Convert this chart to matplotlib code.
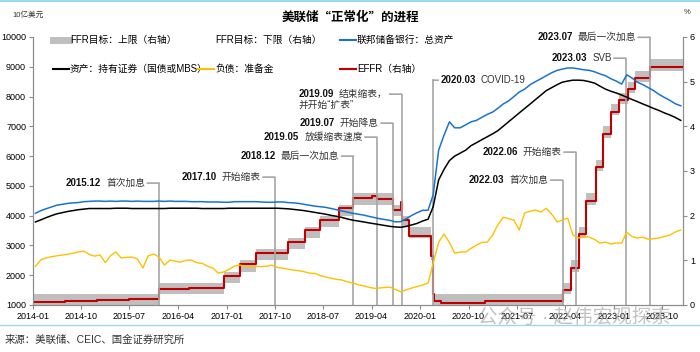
import numpy as np
import pandas as pd
import matplotlib
matplotlib.use("Agg")
import matplotlib.pyplot as plt
import matplotlib.dates as mdates
from matplotlib.lines import Line2D

plt.rcParams["font.family"] = ["Liberation Sans", "Noto Sans CJK SC"]
plt.rcParams["axes.unicode_minus"] = False

# ---------------- data (10亿美元, mid-month) ----------------
months = pd.date_range("2014-01-01", "2024-01-01", freq="MS") + pd.Timedelta(days=14)

total_assets = [
    4080, 4170, 4230, 4290, 4350, 4380, 4410, 4430, 4440, 4470, 4480, 4490,
    4490, 4480, 4490, 4480, 4490, 4490, 4480, 4490, 4480, 4480, 4480, 4490,
    4480, 4490, 4480, 4480, 4480, 4470, 4470, 4470, 4460, 4460, 4460, 4450,
    4450, 4470, 4470, 4470, 4470, 4470, 4460, 4450, 4450, 4460, 4460, 4440,
    4430, 4410, 4380, 4350, 4320, 4300, 4280, 4240, 4200, 4160, 4120, 4080,
    4050, 4020, 3980, 3940, 3900, 3870, 3840, 3790, 3800, 3900, 4010, 4100,
    4180, 4180, 4700, 6200, 6700, 7150, 6950, 6950, 7050, 7150, 7200, 7300,
    7400, 7480, 7600, 7750, 7850, 8000, 8150, 8250, 8400, 8500, 8600, 8700,
    8800, 8880, 8920, 8960, 8960, 8930, 8900, 8880, 8830, 8760, 8700, 8600,
    8520, 8420, 8730, 8620, 8480, 8400, 8300, 8200, 8070, 7970, 7870, 7760,
    7690,
]

securities = [
    3790, 3860, 3930, 4000, 4060, 4100, 4140, 4170, 4200, 4220, 4240, 4240,
    4240, 4240, 4240, 4250, 4250, 4250, 4240, 4240, 4240, 4240, 4240, 4240,
    4240, 4250, 4250, 4250, 4250, 4250, 4250, 4240, 4240, 4240, 4240, 4240,
    4250, 4250, 4250, 4250, 4250, 4250, 4250, 4250, 4250, 4250, 4240, 4230,
    4210, 4190, 4170, 4140, 4110, 4080, 4050, 4010, 3980, 3940, 3890, 3850,
    3820, 3790, 3760, 3730, 3700, 3670, 3640, 3620, 3610, 3640, 3690, 3740,
    3820, 3880, 4300, 5200, 5550, 5850, 6000, 6100, 6200, 6350, 6450, 6550,
    6650, 6750, 6850, 7000, 7150, 7300, 7450, 7600, 7750, 7900, 8050, 8200,
    8300, 8400, 8480, 8520, 8550, 8550, 8540, 8500, 8450, 8350, 8250, 8180,
    8120, 8050, 7980, 7900, 7830, 7750, 7680, 7600, 7530, 7450, 7380, 7300,
    7200,
]

reserves = [
    2300, 2520, 2580, 2620, 2650, 2680, 2700, 2740, 2780, 2810, 2700, 2640,
    2680, 2420, 2650, 2780, 2580, 2600, 2610, 2550, 2240, 2650, 2710, 2610,
    2340, 2510, 2470, 2440, 2500, 2510, 2420, 2400, 2300, 2240, 2070, 2110,
    2200, 2310, 2340, 2300, 2280, 2300, 2290, 2300, 2340, 2260, 2240, 2200,
    2170, 2150, 2120, 2070, 2060, 1990, 1940, 1900, 1860, 1840, 1780, 1740,
    1680, 1650, 1600, 1560, 1570, 1590, 1600, 1520, 1440, 1510, 1570, 1620,
    1670, 1740, 2400, 3110, 3380, 3100, 2740, 2780, 2780, 2900, 3010, 3100,
    3110, 3350, 3680, 3950, 3900, 3850, 3520, 4090, 4150, 4190, 4120, 4250,
    4050, 3790, 3850, 3920, 3350, 3250, 3300, 3280, 3200, 3080, 3110, 3050,
    3080, 3080, 3450, 3300, 3250, 3280, 3210, 3230, 3250, 3300, 3350, 3450,
    3520,
]

# FFR target range (%), step changes
ffr_dates = [
    "2014-01-01", "2015-12-17", "2016-12-15", "2017-03-16", "2017-06-15",
    "2017-12-14", "2018-03-22", "2018-06-14", "2018-09-27", "2018-12-20",
    "2019-08-01", "2019-09-19", "2019-10-31", "2020-03-04", "2020-03-16",
    "2022-03-17", "2022-05-05", "2022-06-16", "2022-07-28", "2022-09-22",
    "2022-11-03", "2022-12-15", "2023-02-02", "2023-03-23", "2023-05-04",
    "2023-07-27", "2024-01-28",
]
ffr_lower = [0.00, 0.25, 0.50, 0.75, 1.00, 1.25, 1.50, 1.75, 2.00, 2.25,
             2.00, 1.75, 1.50, 1.00, 0.00, 0.25, 0.75, 1.50, 2.25, 3.00,
             3.75, 4.25, 4.50, 4.75, 5.00, 5.25, 5.25]
ffr_upper = [0.25, 0.50, 0.75, 1.00, 1.25, 1.50, 1.75, 2.00, 2.25, 2.50,
             2.25, 2.00, 1.75, 1.25, 0.25, 0.50, 1.00, 1.75, 2.50, 3.25,
             4.00, 4.50, 4.75, 5.00, 5.25, 5.50, 5.50]

effr_dates = [
    "2014-01-01", "2014-07-01", "2015-01-01", "2015-07-01", "2015-12-17",
    "2016-06-01", "2016-12-15", "2017-03-16", "2017-06-15", "2017-12-14",
    "2018-03-22", "2018-06-14", "2018-09-27", "2018-12-20", "2019-04-01",
    "2019-05-02", "2019-08-01", "2019-09-17", "2019-09-19", "2019-10-31",
    "2020-03-04", "2020-03-16", "2020-03-20", "2020-05-01", "2021-01-01",
    "2021-06-17", "2022-03-17", "2022-05-05", "2022-06-16", "2022-07-28",
    "2022-09-22", "2022-11-03", "2022-12-15", "2023-02-02", "2023-03-23",
    "2023-05-04", "2023-07-27", "2024-01-28",
]
effr = [0.07, 0.09, 0.12, 0.14, 0.36, 0.38, 0.66, 0.91, 1.16, 1.42,
        1.68, 1.91, 2.18, 2.40, 2.44, 2.38, 2.13, 2.30, 1.90, 1.55,
        1.10, 0.25, 0.10, 0.05, 0.09, 0.08, 0.33, 0.83, 1.58, 2.33,
        3.08, 3.83, 4.33, 4.58, 4.83, 5.08, 5.33, 5.33]

# events: (date of line, label y on left axis, date text, description)
events = [
    ("2015-12-16", 5094, "2015.12", "首次加息"),
    ("2017-10-01", 5295, "2017.10", "开始缩表"),
    ("2018-12-20", 6000, "2018.12", "最后一次加息"),
    ("2019-05-01", 6638, "2019.05", "放缓缩表速度"),
    ("2019-07-31", 7107, "2019.07", "开始降息"),
    ("2022-03-17", 5195, "2022.03", "首次加息"),
    ("2022-06-01", 6134, "2022.06", "开始缩表"),
    ("2023-03-10", 9289, "2023.03", "SVB"),
    ("2023-07-26", 9990, "2023.07", "最后一次加息"),
]

C_BLUE = "#1874CD"
C_BLACK = "#000000"
C_ORANGE = "#FFC000"
C_RED = "#C00000"
C_BAND = "#BFBFBF"
C_VLINE = "#A6A6A6"
C_SPINE = "#8C8C8C"

# ---------------- figure ----------------
fig = plt.figure(figsize=(7.0, 3.52), dpi=100)
ax = fig.add_axes([33 / 700, 1 - 305 / 352, 650 / 700, 268 / 352])
ax2 = ax.twinx()

ffr_x = pd.to_datetime(ffr_dates)
effr_x = pd.to_datetime(effr_dates)

ax2.fill_between(ffr_x, ffr_lower, ffr_upper, step="post",
                 color=C_BAND, lw=0, zorder=1)
ax2.step(effr_x, effr, where="post", color=C_RED, lw=1.5, zorder=3)

ax.plot(months, reserves, color=C_ORANGE, lw=1.0, zorder=3)
ax.plot(months, total_assets, color=C_BLUE, lw=1.1, zorder=3)
ax.plot(months, securities, color=C_BLACK, lw=1.1, zorder=3)

# put ax (balance sheet lines) above ax2
ax.set_zorder(ax2.get_zorder() + 1)
ax.patch.set_visible(False)

ax.set_xlim(pd.Timestamp("2014-01-01"), pd.Timestamp("2024-01-28"))
ax.set_ylim(1000, 10000)
ax2.set_ylim(0, 6)

ax.set_yticks(np.arange(1000, 10001, 1000))
ax2.set_yticks(np.arange(0, 7, 1))
ax.set_xticks(pd.date_range("2014-01-01", "2023-10-01", freq="9MS"))
ax.xaxis.set_major_formatter(mdates.DateFormatter("%Y-%m"))

for a in (ax, ax2):
    a.spines["top"].set_visible(False)
    for s in ("left", "right", "bottom"):
        a.spines[s].set_color(C_SPINE)
        a.spines[s].set_linewidth(0.8)
    a.tick_params(labelsize=6.5, length=3, width=0.8, color=C_SPINE, pad=2)

# ---------------- event markers ----------------
def mark(date, y, date_txt, desc):
    x = mdates.date2num(pd.Timestamp(date))
    ax.plot([x, x], [1000, y], color=C_VLINE, lw=1.2, zorder=2,
            solid_capstyle="butt")
    ax.annotate("", xy=(x, y), xytext=(-12, 0), textcoords="offset pixels",
                arrowprops=dict(arrowstyle="-", color=C_VLINE, lw=1.2,
                                shrinkA=0, shrinkB=0))
    t = ax.annotate(desc, xy=(x, y), xytext=(-14, 0),
                    textcoords="offset pixels", ha="right", va="center",
                    fontsize=7, color="#333333")
    d = ax.annotate(date_txt, xy=(0, 0.5), xycoords=t, xytext=(-5, 0),
                    textcoords="offset pixels", ha="right", va="center",
                    fontsize=7, fontweight="bold", color="#111111")
    return d


for ev in events:
    mark(*ev)

# 2019.09 two-line label
d = mark("2019-09-18", 8081, "2019.09", "结束缩表，")
ax.annotate("并开始“扩表”", xy=(0, 0), xycoords=d, xytext=(0, -1),
            textcoords="offset pixels", ha="left", va="top",
            fontsize=7, color="#333333")

# 2020.03 COVID-19, label to the right of the line
xc = mdates.date2num(pd.Timestamp("2020-03-15"))
ax.plot([xc, xc], [1000, 8550], color=C_VLINE, lw=1.2, zorder=2)
ax.annotate("", xy=(xc, 8550), xytext=(5, 0), textcoords="offset pixels",
            arrowprops=dict(arrowstyle="-", color=C_VLINE, lw=1.2,
                            shrinkA=0, shrinkB=0))
tc = ax.annotate("2020.03", xy=(xc, 8550), xytext=(7, 0),
                 textcoords="offset pixels", ha="left", va="center",
                 fontsize=7, fontweight="bold", color="#111111")
ax.annotate("COVID-19", xy=(1, 0.5), xycoords=tc, xytext=(5, 0),
            textcoords="offset pixels", ha="left", va="center",
            fontsize=7, color="#333333")

# ---------------- legend (three columns) ----------------
h_upper = Line2D([], [], color=C_BAND, lw=5)
h_lower = Line2D([], [], color="white", lw=5)
h_total = Line2D([], [], color=C_BLUE, lw=1.5)
h_secs = Line2D([], [], color=C_BLACK, lw=1.5)
h_res = Line2D([], [], color=C_ORANGE, lw=1.5)
h_effr = Line2D([], [], color=C_RED, lw=1.5)

legend_cols = [
    (53, [h_upper, h_secs], ["FFR目标：上限（右轴）", "资产：持有证券（国债或MBS）"]),
    (198, [h_lower, h_res], ["FFR目标：下限（右轴）", "负债：准备金"]),
    (340, [h_total, h_effr], ["联邦储备银行：总资产", "EFFR（右轴）"]),
]
for x0, hs, ls in legend_cols:
    leg = fig.legend(hs, ls, loc="upper left",
                     bbox_to_anchor=(x0 / 700, 1 - 35 / 352),
                     frameon=False, fontsize=7, handlelength=1.6,
                     handletextpad=0.15, borderpad=0, borderaxespad=0,
                     labelspacing=1.95)

# ---------------- titles and notes ----------------
fig.text(0.5, 1 - 17 / 352, "美联储“正常化”的进程", ha="center", va="center",
         fontsize=9, fontweight="bold", family=["Noto Sans CJK SC"])
fig.text(12 / 700, 1 - 15 / 352, "10亿美元", ha="left", va="center",
         fontsize=5.5, color="#333333")
fig.text(687 / 700, 1 - 13 / 352, "%", ha="center", va="center",
         fontsize=5.5, color="#333333")
fig.text(5 / 700, 1 - 340 / 352, "来源：美联储、CEIC、国金证券研究所",
         ha="left", va="center", fontsize=7.5, color="#333333")
fig.text(478 / 700, 1 - 318 / 352, "公众号 · 赵伟宏观探索", ha="left",
         va="center", fontsize=14, color="#9a9a9a", alpha=0.6)

fig.add_artist(Line2D([0, 1], [1 - 1 / 352, 1 - 1 / 352], color="#9ED8F0",
                      lw=1.5, transform=fig.transFigure))
fig.add_artist(Line2D([0, 1], [1 - 325 / 352, 1 - 325 / 352],
                      color="#9ED8F0", lw=1.0, transform=fig.transFigure))

fig.savefig("out.png", dpi=100)
